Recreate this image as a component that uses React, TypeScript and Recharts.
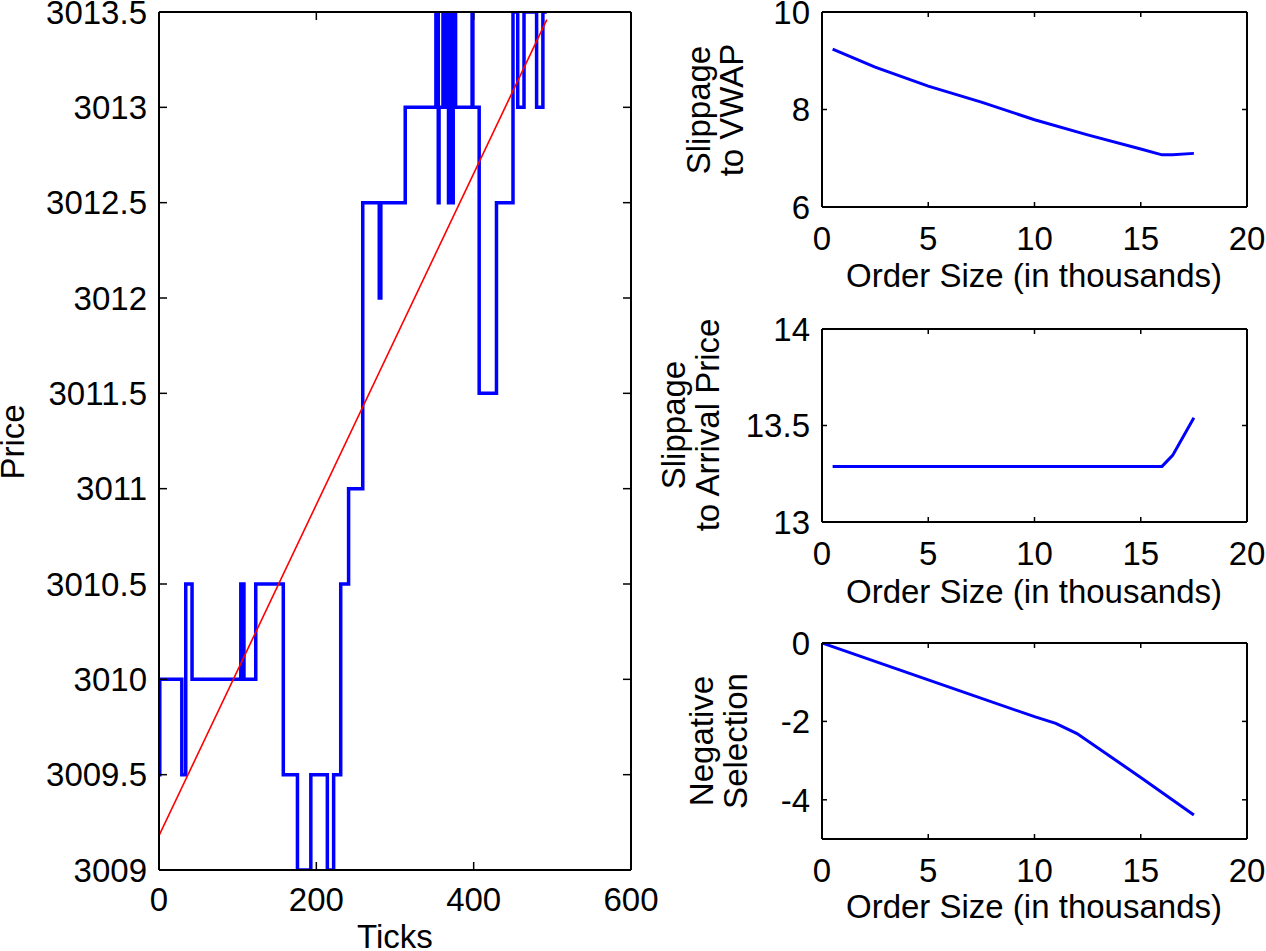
import { LineChart, Line, XAxis, YAxis } from "recharts";

// price path (step after), ticks where price changes
const tickIdx = [
  0, 1, 29, 34, 42, 104, 108, 123, 158, 176, 193, 214, 222, 231, 241, 259, 280,
  282, 313, 352, 355, 356, 361, 364, 366, 368, 370, 372, 374, 375, 377, 398,
  399, 407, 429, 450, 456, 464, 480, 488, 493,
];
const prices = [
  3009.5, 3010, 3009.5, 3010.5, 3010, 3010.5, 3010, 3010.5, 3009.5, 3009,
  3009.5, 3009, 3009.5, 3010.5, 3011, 3012.5, 3012, 3012.5, 3013, 3013.5,
  3012.5, 3013, 3013.5, 3013, 3013.5, 3012.5, 3013.5, 3012.5, 3013, 3013.5,
  3013, 3013.5, 3013, 3011.5, 3012.5, 3013.5, 3013, 3013.5, 3013, 3013.5,
  3013.5,
];
// linear fit
const fitTicks = [0, 493];
const fitPrices = [3009.18, 3013.46];

const priceTicks = [3009, 3009.5, 3010, 3010.5, 3011, 3011.5, 3012, 3012.5, 3013, 3013.5];
const tickAxis = [0, 200, 400, 600];

const orderSizeVwap = [0.5, 2.5, 5, 7.5, 10, 12.5, 15, 16, 16.5, 17.5];
const slipVwap = [9.24, 8.87, 8.48, 8.15, 7.79, 7.48, 7.19, 7.07, 7.07, 7.1];

const orderSizeArr = [0.5, 5, 10, 16, 16.5, 17.5];
const slipArrival = [13.288, 13.288, 13.288, 13.288, 13.345, 13.54];

const orderSizeNeg = [0, 5, 10, 11, 12, 15, 17.5];
const negSelection = [0, -0.94, -1.88, -2.05, -2.31, -3.43, -4.39];

const sizeTicks = [0, 5, 10, 15, 20];

const FONT = "'Liberation Sans', Arial, Helvetica, sans-serif";
const tickStyle = { fill: "#000", fontSize: 33, fontFamily: FONT };
const axisLine = { stroke: "#000", strokeWidth: 2 };
const tickLine = { stroke: "#000", strokeWidth: 1.5 };
const blank = () => "";

const pathData = tickIdx.map((t, i) => ({ t, price: prices[i] }));
const fitData = fitTicks.map((t, i) => ({ t, fit: fitPrices[i] }));

function SmallChart({
  top,
  plotH,
  xs,
  ys,
  yDomain,
  yTicks,
}: {
  top: number;
  plotH: number;
  xs: number[];
  ys: number[];
  yDomain: [number, number];
  yTicks: number[];
}) {
  const data = xs.map((x, i) => ({ x, y: ys[i] }));
  const height = plotH + 30 + 60;
  return (
    <div style={{ position: "absolute", left: 700, top: top - 30 }}>
      <LineChart width={566} height={height} margin={{ top: 29, right: 18, bottom: 0, left: 0 }}>
        <XAxis
          xAxisId="b"
          type="number"
          dataKey="x"
          domain={[0, 20]}
          ticks={sizeTicks}
          interval={0}
          allowDataOverflow
          height={60}
          tickSize={-5}
          tickMargin={25}
          tick={tickStyle}
          axisLine={axisLine}
          tickLine={tickLine}
        />
        <XAxis
          xAxisId="t"
          orientation="top"
          type="number"
          dataKey="x"
          domain={[0, 20]}
          ticks={sizeTicks}
          interval={0}
          height={1}
          tickSize={-5}
          tickFormatter={blank}
          axisLine={axisLine}
          tickLine={tickLine}
        />
        <YAxis
          yAxisId="l"
          type="number"
          domain={yDomain}
          ticks={yTicks}
          interval={0}
          allowDataOverflow
          width={122}
          tickSize={-5}
          tickMargin={17}
          tick={tickStyle}
          axisLine={axisLine}
          tickLine={tickLine}
        />
        <YAxis
          yAxisId="r"
          orientation="right"
          type="number"
          domain={yDomain}
          ticks={yTicks}
          interval={0}
          width={1}
          tickSize={-5}
          tickFormatter={blank}
          axisLine={axisLine}
          tickLine={tickLine}
        />
        <Line
          xAxisId="b"
          yAxisId="l"
          data={data}
          dataKey="y"
          type="linear"
          stroke="#0000ff"
          strokeWidth={3}
          dot={false}
          isAnimationActive={false}
        />
        {/* invisible series so the top/right frame axes get drawn */}
        <Line
          xAxisId="t"
          yAxisId="r"
          data={data}
          dataKey="y"
          stroke="none"
          dot={false}
          activeDot={false}
          isAnimationActive={false}
        />
      </LineChart>
    </div>
  );
}

export default function App() {
  return (
    <div
      style={{
        position: "absolute",
        left: 0,
        top: 0,
        width: 1266,
        height: 951,
        background: "#fff",
        fontFamily: FONT,
        overflow: "hidden",
      }}
    >
      <div style={{ position: "absolute", left: 0, top: -20 }}>
        <LineChart width={660} height={971} margin={{ top: 31, right: 28, bottom: 0, left: 0 }}>
          <XAxis
            xAxisId="b"
            type="number"
            dataKey="t"
            domain={[0, 600]}
            ticks={tickAxis}
            interval={0}
            allowDataOverflow
            height={81}
            tickSize={-8}
            tickMargin={26}
            tick={tickStyle}
            axisLine={axisLine}
            tickLine={tickLine}
          />
          <XAxis
            xAxisId="t"
            orientation="top"
            type="number"
            dataKey="t"
            domain={[0, 600]}
            ticks={tickAxis}
            interval={0}
            height={1}
            tickSize={-8}
            tickFormatter={blank}
            axisLine={axisLine}
            tickLine={tickLine}
          />
          <YAxis
            yAxisId="l"
            type="number"
            domain={[3009, 3013.5]}
            ticks={priceTicks}
            interval={0}
            allowDataOverflow
            width={159}
            tickSize={-8}
            tickMargin={20}
            tick={tickStyle}
            axisLine={axisLine}
            tickLine={tickLine}
          />
          <YAxis
            yAxisId="r"
            orientation="right"
            type="number"
            domain={[3009, 3013.5]}
            ticks={priceTicks}
            interval={0}
            width={1}
            tickSize={-8}
            tickFormatter={blank}
            axisLine={axisLine}
            tickLine={tickLine}
          />
          <Line
            xAxisId="b"
            yAxisId="l"
            data={pathData}
            dataKey="price"
            type="stepAfter"
            stroke="#0000ff"
            strokeWidth={3.5}
            dot={false}
            isAnimationActive={false}
          />
          <Line
            xAxisId="b"
            yAxisId="l"
            data={fitData}
            dataKey="fit"
            type="linear"
            stroke="#ff0000"
            strokeWidth={1.6}
            dot={false}
            isAnimationActive={false}
          />
          {/* invisible series so the top/right frame axes get drawn */}
          <Line
            xAxisId="t"
            yAxisId="r"
            data={pathData}
            dataKey="price"
            stroke="none"
            dot={false}
            activeDot={false}
            isAnimationActive={false}
          />
        </LineChart>
      </div>

      <SmallChart top={12} plotH={195} xs={orderSizeVwap} ys={slipVwap} yDomain={[6, 10]} yTicks={[6, 8, 10]} />
      <SmallChart top={329} plotH={193} xs={orderSizeArr} ys={slipArrival} yDomain={[13, 14]} yTicks={[13, 13.5, 14]} />
      <SmallChart top={643} plotH={196} xs={orderSizeNeg} ys={negSelection} yDomain={[-5, 0]} yTicks={[-4, -2, 0]} />

      {/* axis titles */}
      <svg
        width={1266}
        height={951}
        style={{ position: "absolute", left: 0, top: 0, pointerEvents: "none" }}
        fontFamily={FONT}
        fontSize={33}
        fill="#000"
      >
        <text x={395} y={948} textAnchor="middle">Ticks</text>
        <text transform="translate(24,442) rotate(-90)" textAnchor="middle">Price</text>

        <text x={1034} y={287} textAnchor="middle">Order Size (in thousands)</text>
        <text x={1034} y={603} textAnchor="middle">Order Size (in thousands)</text>
        <text x={1034} y={918} textAnchor="middle">Order Size (in thousands)</text>

        <text transform="translate(710,110) rotate(-90)" textAnchor="middle">Slippage</text>
        <text transform="translate(743,110) rotate(-90)" textAnchor="middle">to VWAP</text>

        <text transform="translate(685,425) rotate(-90)" textAnchor="middle">Slippage</text>
        <text transform="translate(719,425) rotate(-90)" textAnchor="middle">to Arrival Price</text>

        <text transform="translate(713,741) rotate(-90)" textAnchor="middle">Negative</text>
        <text transform="translate(747,741) rotate(-90)" textAnchor="middle">Selection</text>
      </svg>
    </div>
  );
}
